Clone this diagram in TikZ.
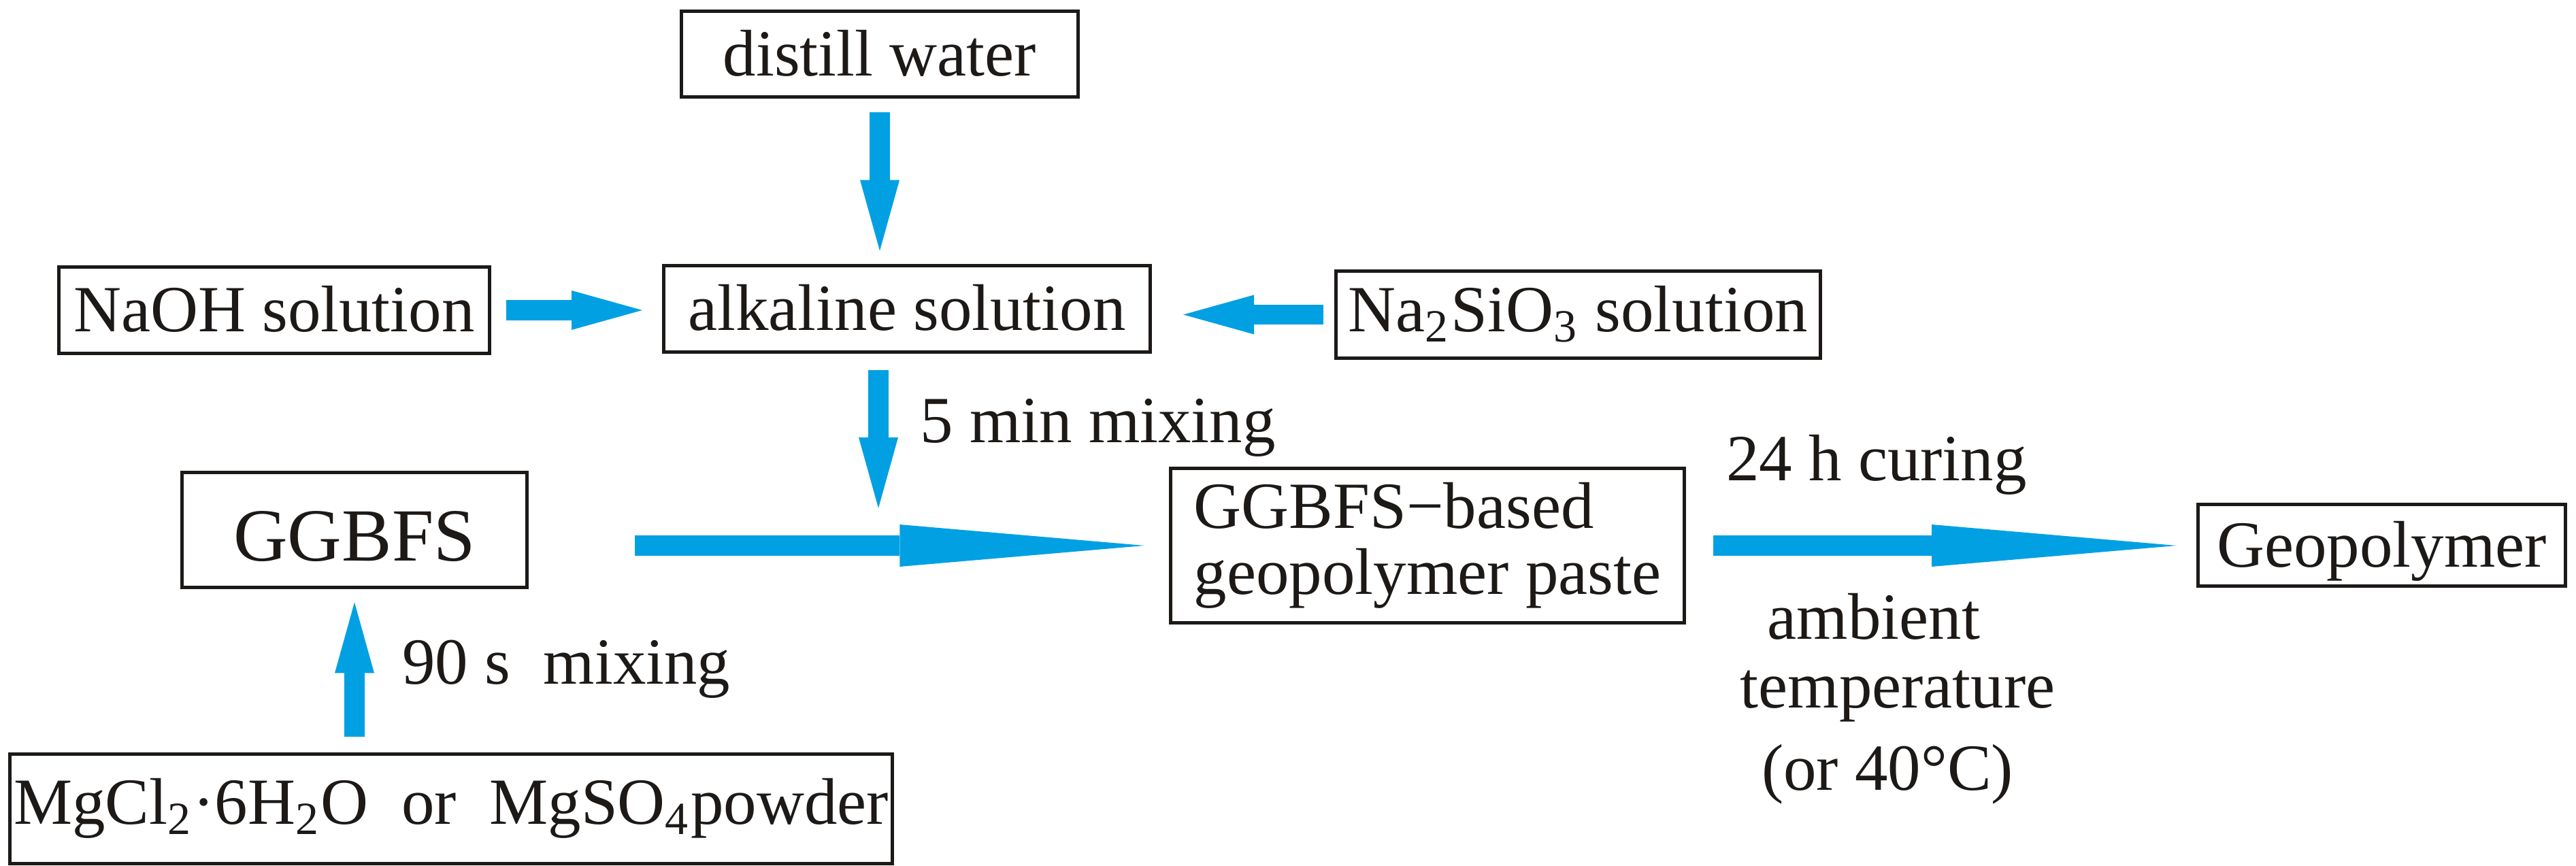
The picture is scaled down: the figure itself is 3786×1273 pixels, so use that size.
\documentclass[tikz,border=0pt]{standalone}
\usepackage{fontspec}
\setmainfont{Liberation Serif}
\usepackage{tikz}
\usetikzlibrary{positioning, arrows.meta, calc}
\definecolor{cFlow}{HTML}{00A0E3}
\definecolor{cInk} {HTML}{1C1917}

\begin{document}
\begin{tikzpicture}[x=0.005cm, y=-0.005cm,
    box/.style={draw=cInk, line width=0.7pt, text=cInk, inner sep=0pt,
      font=\fontsize{13.8}{13.9}\selectfont},
    oneline/.style={text height=9pt, text depth=0pt},
    lbl/.style={text=cInk, inner sep=0pt, font=\fontsize{13.8}{13.9}\selectfont},
    flow/.style={draw=cFlow, line width=0.15cm,
      -{Triangle[length=0.52cm, width=0.29cm, line width=0pt]}},
    longflow/.style={draw=cFlow, line width=0.155cm,
      -{Triangle[length=1.8cm, width=0.31cm, line width=0pt]}},
  ]
  \useasboundingbox (0,0) rectangle (3786,1273);

  \node[box, oneline, minimum width=2.92cm, minimum height=0.635cm] (distill) at (1293,79.5) {distill water};
  \node[box, oneline, minimum width=3.17cm, minimum height=0.64cm] (naoh) at (403,456) {NaOH solution};
  \node[box, oneline, minimum width=3.58cm, minimum height=0.64cm] (alkaline) at (1333,454) {alkaline solution};
  \node[box, oneline, text height=7.1pt, minimum width=3.565cm, minimum height=0.645cm] (sodsil) at (2319.5,462.5)
    {Na\textsubscript{2}SiO\textsubscript{3} solution};
  \node[box, oneline, text height=13pt, minimum width=2.54cm, minimum height=0.85cm,
    font=\fontsize{15.7}{16}\selectfont] (ggbfs) at (521,779) {GGBFS};
  \node[box, align=left, minimum width=3.78cm, minimum height=1.14cm] (paste) at (2098,802)
    {GGBFS−based\\geopolymer paste};
  \node[box, oneline, minimum width=2.705cm, minimum height=0.605cm] (geo) at (3500.5,801.5) {Geopolymer};
  \node[box, oneline, text height=6.3pt, minimum width=6.49cm, minimum height=0.81cm] (mgcl) at (663,1189)
    {MgCl\textsubscript{2}·6H\textsubscript{2}O\ \ or\ \ MgSO\textsubscript{4}powder};

  \coordinate (merge) at (1291,747);

  \node[lbl, anchor=base west] (mixfive) at (1351,651) {5 min mixing};
  \node[lbl, anchor=base west] (mixninety) at (590,1005) {90 s\ \ mixing};
  \node[lbl, anchor=base] (curing) at (2758,706) {24 h curing};
  \node[lbl, anchor=base] (ambient) at (2754,939) {ambient};
  \node[lbl, anchor=base] (temp) at (2789,1040) {temperature};
  \node[lbl, anchor=base] (hotter) at (2774,1161) {(or 40°C)};

  \draw[flow, shorten <=0.1cm, shorten >=0.095cm] (distill.south) -- (distill.south |- alkaline.north);
  \draw[flow, shorten <=0.11cm, shorten >=0.145cm] (naoh.east) -- (naoh.east -| alkaline.west);
  \draw[flow, shorten <=0.08cm, shorten >=0.23cm] (sodsil.west) -- (sodsil.west -| alkaline.east);
  \draw[flow, shorten <=0.12cm] (alkaline.south -| merge) -- (merge);
  \draw[longflow, shorten <=0.78cm, shorten >=0.18cm] (ggbfs.east |- paste.west) -- (paste.west);
  \draw[longflow, shorten <=0.2cm, shorten >=0.145cm] (paste.east) -- (paste.east -| geo.west);
  \draw[flow, shorten <=0.115cm, shorten >=0.095cm] (mgcl.north -| ggbfs.south) -- (ggbfs.south);
\end{tikzpicture}
\end{document}
